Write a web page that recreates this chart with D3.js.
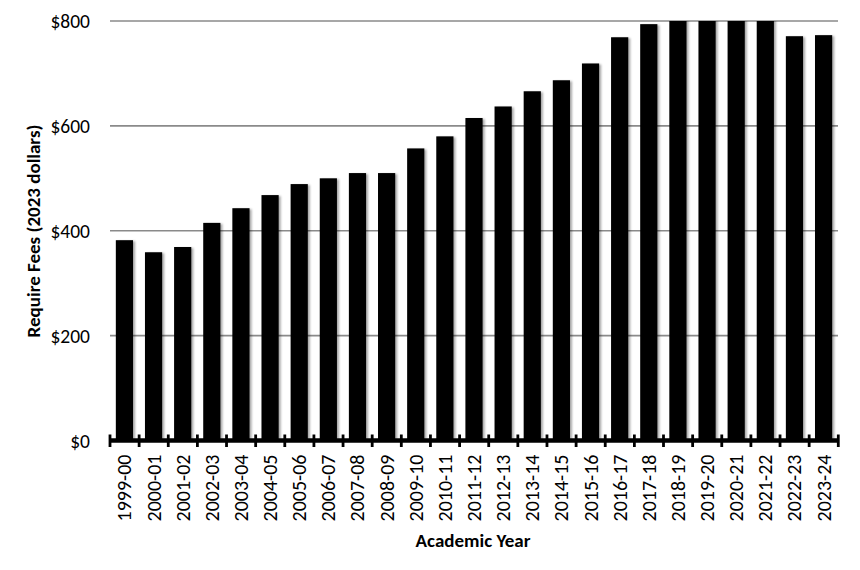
<!DOCTYPE html>
<html>
<head>
<meta charset="utf-8">
<script src="https://cdn.jsdelivr.net/npm/d3@7"></script>
<style>
  body { margin: 0; background: #fff; }
  text { font-family: Carlito, Lato, "Open Sans", sans-serif; fill: #000; }
</style>
</head>
<body>
<div id="chart"></div>
<script>
// academic years
var years = ["1999-00","2000-01","2001-02","2002-03","2003-04","2004-05","2005-06","2006-07",
  "2007-08","2008-09","2009-10","2010-11","2011-12","2012-13","2013-14","2014-15","2015-16",
  "2016-17","2017-18","2018-19","2019-20","2020-21","2021-22","2022-23","2023-24"];

// required fees, 2023 dollars (2018-19..2021-22 run past the top)
var fees = [382, 359, 369, 415, 443, 468, 489, 500, 510, 510, 557, 580, 615, 637, 666, 687,
  719, 769, 794, 808, 812, 815, 806, 771, 773];

var yTicks = [0, 200, 400, 600, 800];

var svgWidth = 860, svgHeight = 570;
var margin = {top: 21, right: 22, bottom: 130, left: 110};
var chartWidth = 838 - margin.left;
var chartHeight = 440.5 - margin.top;

var svg = d3.select("#chart").append("svg")
    .attr("width", svgWidth)
    .attr("height", svgHeight);

var defs = svg.append("defs");
defs.append("clipPath").attr("id", "plotClip")
  .append("rect").attr("x", 0).attr("y", 0).attr("width", chartWidth).attr("height", chartHeight);
var shadow = defs.append("filter").attr("id", "shadow")
    .attr("x", "-20%").attr("y", "-5%").attr("width", "150%").attr("height", "110%");
shadow.append("feDropShadow")
    .attr("dx", 2).attr("dy", 1).attr("stdDeviation", 1.2)
    .attr("flood-color", "#000").attr("flood-opacity", 0.35);

var chartGroup = svg.append("g")
    .attr("transform", `translate(${margin.left}, ${margin.top})`);

var xScale = d3.scaleBand()
    .domain(years)
    .range([0, chartWidth])
    .paddingInner(0.41)
    .paddingOuter(0.2);

var yScale = d3.scaleLinear()
    .domain([0, 800])
    .range([chartHeight, 0]);

// gridlines
chartGroup.append("g")
  .selectAll("line")
  .data(yTicks.filter(d => d > 0))
  .enter().append("line")
    .attr("x1", 0)
    .attr("x2", chartWidth)
    .attr("y1", d => yScale(d))
    .attr("y2", d => yScale(d))
    .attr("stroke", "#8a8a8a")
    .attr("stroke-width", 1.6);

// bars
chartGroup.append("g")
    .attr("clip-path", "url(#plotClip)")
  .selectAll("rect")
  .data(fees)
  .enter().append("rect")
    .attr("x", (d, i) => xScale(years[i]))
    .attr("y", d => yScale(d))
    .attr("width", xScale.bandwidth())
    .attr("height", d => chartHeight - yScale(d))
    .attr("fill", "#000")
    .attr("filter", "url(#shadow)");

// y axis labels
var leftAxis = d3.axisLeft(yScale)
    .tickValues(yTicks)
    .tickSize(0)
    .tickPadding(20)
    .tickFormat(d => "$" + d);
var yAxis = chartGroup.append("g").call(leftAxis);
yAxis.select(".domain").remove();
yAxis.selectAll("text")
    .style("font-size", "19.5px")
    .attr("dy", "0.35em");

// x axis: thick line with ticks crossing it
var xAxis = chartGroup.append("g")
    .attr("transform", `translate(0, ${chartHeight})`);
var bounds = d3.range(years.length + 1).map(i => i * xScale.step());
xAxis.append("line")
    .attr("x1", 0).attr("x2", chartWidth)
    .attr("y1", 0).attr("y2", 0)
    .attr("stroke", "#000").attr("stroke-width", 4.5);
xAxis.selectAll(".tk")
  .data(bounds)
  .enter().append("line")
    .attr("class", "tk")
    .attr("x1", d => d).attr("x2", d => d)
    .attr("y1", -6).attr("y2", 6.5)
    .attr("stroke", "#000").attr("stroke-width", 2.8);

xAxis.selectAll(".lbl")
  .data(years)
  .enter().append("text")
    .attr("class", "lbl")
    .attr("transform", d => `translate(${xScale(d) + xScale.bandwidth() / 2}, 14) rotate(-90)`)
    .attr("text-anchor", "end")
    .attr("dy", "0.35em")
    .style("font-size", "20px")
    .text(d => d);

// axis titles
svg.append("text")
    .attr("x", 473)
    .attr("y", 547)
    .attr("text-anchor", "middle")
    .style("font-size", "19px")
    .style("font-weight", "bold")
    .text("Academic Year");

svg.append("text")
    .attr("transform", "translate(40, 231) rotate(-90)")
    .attr("text-anchor", "middle")
    .style("font-size", "19px")
    .style("font-weight", "bold")
    .text("Require Fees (2023 dollars)");
</script>
</body>
</html>
